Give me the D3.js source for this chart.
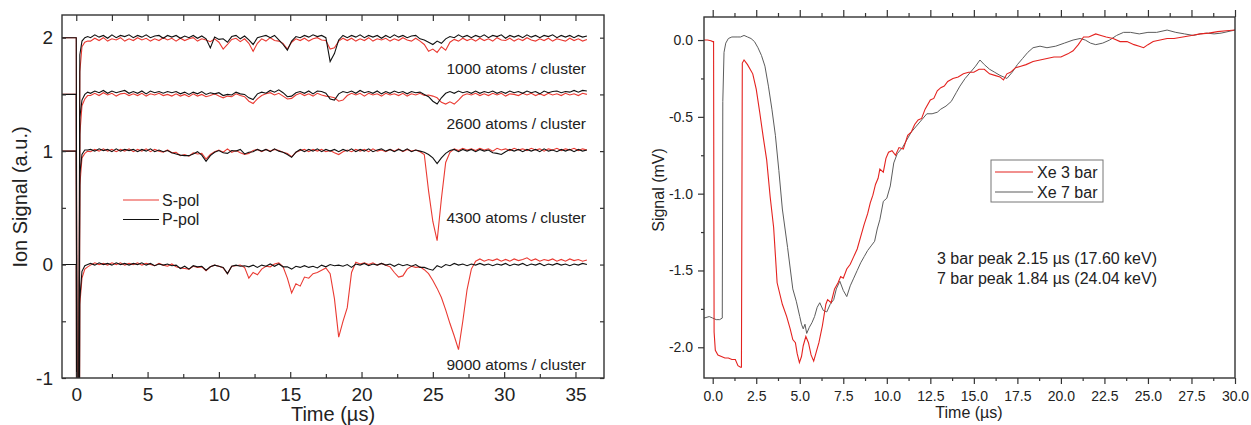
<!DOCTYPE html>
<html>
<head>
<meta charset="utf-8">
<script src="https://cdn.jsdelivr.net/npm/d3@7"></script>
<style>
body { margin: 0; background: #fff; }
svg { display: block; }
</style>
</head>
<body>
<svg id="chart" width="1251" height="425"></svg>
<script>
// ---- left panel: ion signal vs time, offset per cluster size ----
var leftTimes = [
 -1, -0.6, -0.2, 0, 0.06, 0.16, 0.25, 0.4, 0.6, 0.8,
 1.0, 1.3, 1.6, 1.9, 2.2, 2.5, 2.8, 3.1, 3.4, 3.7,
 4.0, 4.3, 4.6, 4.9, 5.2, 5.5, 5.8, 6.1, 6.4, 6.7,
 7.0, 7.3, 7.6, 7.9, 8.2, 8.5, 8.8, 9.1, 9.4, 9.7,
 10.0, 10.3, 10.6, 10.9, 11.2, 11.5, 11.8, 12.1, 12.4, 12.7,
 13.0, 13.3, 13.6, 13.9, 14.2, 14.5, 14.8, 15.1, 15.4, 15.7,
 16.0, 16.3, 16.6, 16.9, 17.2, 17.5, 17.8, 18.1, 18.4, 18.7,
 19.0, 19.3, 19.6, 19.9, 20.2, 20.5, 20.8, 21.1, 21.4, 21.7,
 22.0, 22.3, 22.6, 22.9, 23.2, 23.5, 23.8, 24.1, 24.4, 24.7,
 25.0, 25.3, 25.6, 25.9, 26.2, 26.5, 26.8, 27.1, 27.4, 27.7,
 28.0, 28.3, 28.6, 28.9, 29.2, 29.5, 29.8, 30.1, 30.4, 30.7,
 31.0, 31.3, 31.6, 31.9, 32.2, 32.5, 32.8, 33.1, 33.4, 33.7,
 34.0, 34.3, 34.6, 34.9, 35.2, 35.5, 35.8
];

var clusterLabels = ["1000 atoms / cluster", "2600 atoms / cluster", "4300 atoms / cluster", "9000 atoms / cluster"];
var clusterOffsets = [2, 1.5, 1, 0];

// deviations from each trace's offset, S-pol (red) and P-pol (black)
var sPol1000 = [
 0, 0, 0, 0, -4, -4, -0.3, -0.08, -0.04, -0.03,
 -0.03, -0.005, -0.025, 0.0, -0.03, -0.01, -0.02, 0.0, -0.03, -0.01,
 -0.025, 0.0, -0.02, -0.005, -0.03, -0.01, -0.025, 0.0, -0.02, -0.005,
 -0.03, -0.005, -0.025, -0.01, 0.0, -0.03, -0.01, -0.02, -0.035, -0.01,
 -0.04, -0.10, -0.06, -0.015, -0.005, -0.035, -0.01, -0.05, -0.12, -0.05,
 -0.01, -0.03, 0.0, -0.025, -0.03, -0.05, -0.10, -0.04, -0.01, -0.025,
 -0.005, -0.03, -0.01, 0.0, -0.02, -0.025, -0.10, -0.09, -0.03, -0.005,
 -0.025, -0.005, -0.03, -0.01, -0.025, 0.0, -0.03, -0.01, -0.02, -0.005,
 -0.03, -0.01, -0.025, 0.0, -0.02, -0.03, -0.005, -0.03, -0.06, -0.12,
 -0.10, -0.13, -0.08, -0.11, -0.04, -0.015, -0.03, -0.005, -0.025, -0.01,
 -0.03, -0.005, -0.025, -0.01, -0.03, 0.0, -0.02, -0.025, -0.005, -0.03,
 -0.01, -0.025, 0.0, -0.02, -0.03, -0.01, -0.025, -0.005, -0.03, -0.01,
 -0.02, -0.03, -0.005, -0.025, -0.01, -0.03, -0.015
];
var pPol1000 = [
 0, 0, 0, 0, -4, -4, -0.15, -0.03, 0.0, 0.01,
 0.0, 0.025, 0.005, 0.02, -0.005, 0.025, 0.0, 0.02, 0.01, 0.025,
 0.0, 0.02, 0.005, 0.025, 0.0, 0.015, 0.02, -0.005, 0.02, 0.005,
 0.02, -0.005, 0.015, 0.0, 0.02, -0.005, 0.015, -0.01, -0.09, 0.005,
 -0.015, -0.01, -0.04, 0.01, 0.02, -0.01, 0.015, -0.02, -0.06, 0.0,
 0.01, 0.02, 0.0, 0.02, -0.02, -0.06, -0.11, -0.03, 0.01, 0.0,
 0.02, 0.005, 0.025, 0.01, 0.02, 0.0, -0.21, -0.14, -0.02, 0.02,
 0.0, 0.02, 0.005, 0.025, 0.0, 0.02, 0.005, 0.02, -0.005, 0.02,
 0.0, 0.025, 0.005, 0.02, 0.0, 0.015, 0.02, -0.01, -0.02, -0.04,
 -0.06, -0.03, -0.05, -0.01, 0.01, 0.0, 0.025, 0.005, 0.02, 0.0,
 0.02, 0.005, 0.025, 0.0, 0.02, 0.01, 0.025, -0.005, 0.02, 0.005,
 0.02, 0.0, 0.025, 0.005, 0.02, 0.0, 0.02, 0.01, 0.025, 0.0,
 0.02, 0.005, 0.02, 0.0, 0.02, 0.005, 0.015
];
var sPol2600 = [
 0, 0, 0, 0, -4, -4, -0.35, -0.1, -0.04, -0.01,
 -0.01, 0.01, -0.01, 0.015, -0.005, 0.01, -0.015, 0.005, 0.01, -0.01,
 0.005, -0.01, 0.01, -0.015, 0.005, -0.005, 0.01, -0.01, 0.0, -0.015,
 0.005, -0.015, 0.0, -0.02, 0.005, -0.015, 0.0, -0.02, -0.01, 0.005,
 -0.015, -0.03, -0.015, -0.02, 0.005, -0.01, -0.02, -0.06, -0.08, -0.04,
 -0.01, 0.005, 0.015, -0.005, 0.01, -0.015, -0.04, -0.035, -0.005, 0.01,
 -0.01, 0.005, -0.015, 0.01, -0.005, -0.015, -0.02, -0.03, -0.06, -0.05,
 -0.01, 0.01, -0.005, 0.01, -0.015, 0.01, -0.005, 0.005, -0.015, 0.01,
 -0.005, 0.005, -0.01, 0.01, -0.015, 0.005, -0.005, 0.01, -0.01, -0.005,
 -0.015, -0.03, -0.07, -0.085, -0.065, -0.085, -0.05, -0.01, 0.005, -0.005,
 0.01, -0.01, 0.005, -0.01, 0.01, -0.005, 0.01, -0.015, 0.005, 0.0,
 -0.01, 0.01, -0.005, 0.01, -0.01, 0.005, -0.01, 0.01, -0.005, 0.005,
 -0.01, 0.01, -0.005, 0.005, -0.01, 0.01, 0.0
];
var pPol2600 = [
 0, 0, 0, 0, -4, -4, -0.2, -0.05, 0.0, 0.02,
 0.01, 0.03, 0.015, 0.035, 0.01, 0.03, 0.015, 0.025, 0.035, 0.01,
 0.025, 0.01, 0.03, 0.005, 0.03, 0.015, 0.025, 0.01, 0.025, 0.015,
 0.025, 0.005, 0.02, 0.0, 0.02, 0.005, 0.025, 0.0, 0.015, 0.005,
 0.015, -0.01, 0.0, -0.005, 0.02, 0.005, 0.0, -0.03, -0.045, 0.005,
 0.02, 0.01, 0.035, 0.02, 0.04, 0.015, -0.02, -0.015, 0.015, 0.025,
 0.01, 0.03, 0.005, 0.03, 0.025, 0.01, -0.04, -0.05, 0.005, 0.025,
 0.015, 0.03, 0.01, 0.035, 0.015, 0.025, 0.01, 0.03, 0.005, 0.025,
 0.01, 0.03, 0.015, 0.025, 0.005, 0.025, 0.015, 0.02, 0.0, -0.02,
 -0.06, -0.085, -0.03, 0.01, 0.025, 0.01, 0.03, 0.015, 0.025, 0.01,
 0.03, 0.01, 0.025, 0.015, 0.03, 0.01, 0.025, 0.01, 0.03, 0.015,
 0.025, 0.01, 0.03, 0.015, 0.025, 0.005, 0.03, 0.015, 0.025, 0.03,
 0.015, 0.025, 0.02, 0.035, 0.02, 0.035, 0.03
];
var sPol4300 = [
 0, 0, 0, 0, -4, -4, -0.3, -0.06, -0.02, 0.0,
 -0.005, 0.015, 0.0, 0.02, 0.0, 0.015, -0.005, 0.015, 0.0, 0.02,
 -0.005, 0.015, 0.0, 0.02, -0.005, 0.015, 0.0, -0.01, 0.01, -0.015,
 -0.01, -0.04, -0.03, -0.045, -0.015, -0.025, -0.02, -0.07, -0.03, -0.005,
 0.01, -0.01, 0.02, -0.01, 0.005, -0.015, -0.03, -0.02, 0.005, 0.015,
 -0.005, 0.015, 0.0, 0.015, 0.005, -0.01, -0.02, -0.05, -0.01, 0.005,
 0.015, -0.005, 0.015, 0.0, 0.015, -0.005, 0.005, -0.015, -0.03, -0.005,
 0.01, -0.005, 0.015, 0.0, 0.015, -0.005, 0.02, 0.0, 0.01, -0.005,
 0.015, 0.0, 0.02, -0.005, 0.015, 0.0, 0.01, -0.005, -0.03, -0.35,
 -0.62, -0.79, -0.42, -0.10, -0.01, 0.02, 0.005, 0.025, 0.01, 0.02,
 0.005, 0.025, 0.01, 0.02, 0.0, 0.025, 0.01, 0.02, 0.005, 0.025,
 0.01, 0.02, 0.005, 0.025, 0.01, 0.02, 0.0, 0.02, 0.01, 0.025,
 0.005, 0.02, 0.01, 0.025, 0.005, 0.02, 0.01
];
var pPol4300 = [
 0, 0, 0, 0, -4, -4, -0.2, -0.03, 0.01, 0.01,
 0.015, 0.0, 0.02, 0.005, 0.015, -0.005, 0.02, 0.0, 0.015, 0.005,
 0.015, -0.005, 0.015, 0.0, 0.02, -0.005, 0.01, -0.005, 0.005, -0.015,
 -0.025, -0.035, -0.04, -0.04, -0.025, -0.005, -0.035, -0.09, -0.04, -0.01,
 0.005, -0.015, -0.02, 0.005, 0.0, 0.015, -0.025, -0.01, -0.005, 0.015,
 0.0, 0.015, -0.005, 0.02, 0.0, -0.01, -0.03, -0.055, -0.01, 0.015,
 -0.005, 0.015, 0.0, 0.02, -0.005, 0.015, 0.0, 0.015, -0.005, 0.015,
 0.0, 0.02, -0.005, 0.015, 0.0, 0.02, -0.005, 0.01, 0.02, 0.0,
 0.015, -0.005, 0.015, 0.0, 0.02, -0.005, 0.01, 0.0, -0.01, -0.03,
 -0.06, -0.11, -0.06, -0.02, 0.005, 0.015, -0.005, 0.015, 0.0, 0.015,
 -0.005, 0.015, 0.0, 0.01, -0.015, -0.02, -0.03, -0.005, 0.015, 0.0,
 0.015, -0.005, 0.015, 0.0, 0.015, -0.005, 0.02, 0.0, 0.01, -0.005,
 0.015, 0.0, 0.015, -0.005, 0.015, 0.0, 0.01
];
var sPol9000 = [
 0, 0, 0, 0, -4, -4, -0.35, -0.12, -0.04, -0.02,
 -0.005, 0.015, 0.0, 0.01, -0.005, 0.015, 0.0, 0.015, -0.005, 0.01,
 0.0, 0.015, -0.005, 0.01, 0.0, -0.01, 0.01, -0.005, -0.015, 0.005,
 -0.02, -0.03, -0.035, -0.04, -0.015, -0.025, -0.02, -0.055, -0.02, -0.005,
 -0.015, -0.03, -0.08, -0.015, -0.01, -0.005, -0.025, -0.12, -0.07, -0.09,
 -0.04, -0.015, -0.02, 0.005, 0.015, -0.02, -0.12, -0.25, -0.17, -0.19,
 -0.11, -0.12, -0.08, -0.07, -0.05, -0.03, -0.08, -0.30, -0.64, -0.50,
 -0.38, -0.07, 0.02, 0.005, 0.015, 0.0, 0.015, -0.005, 0.01, -0.005,
 -0.02, -0.07, -0.11, -0.10, -0.04, -0.015, -0.025, -0.02, -0.045, -0.08,
 -0.14, -0.21, -0.29, -0.40, -0.52, -0.63, -0.75, -0.50, -0.22, -0.04,
 0.03, 0.05, 0.03, 0.045, 0.035, 0.05, 0.03, 0.045, 0.03, 0.05,
 0.035, 0.045, 0.06, 0.035, 0.05, 0.03, 0.045, 0.035, 0.05, 0.03,
 0.045, 0.03, 0.05, 0.035, 0.045, 0.03, 0.04
];
var pPol9000 = [
 0, 0, 0, 0, -4, -4, -0.3, -0.06, -0.01, 0.0,
 0.01, -0.005, 0.015, 0.0, 0.01, -0.005, 0.015, 0.0, 0.01, -0.005,
 0.01, 0.0, 0.015, -0.005, 0.01, -0.01, 0.005, -0.005, 0.005, -0.01,
 -0.005, -0.035, -0.015, -0.04, -0.01, -0.02, -0.015, -0.05, -0.02, -0.005,
 -0.015, -0.025, -0.08, -0.015, -0.005, -0.015, -0.01, -0.02, -0.005, -0.025,
 -0.005, -0.015, 0.005, -0.015, 0.005, -0.02, -0.02, -0.04, -0.015, -0.025,
 -0.01, -0.025, -0.015, -0.03, -0.005, -0.02, 0.0, -0.01, -0.005, -0.015,
 0.0, -0.025, 0.005, -0.005, 0.01, -0.01, 0.005, -0.005, 0.01, -0.005,
 0.005, -0.015, 0.005, -0.01, 0.0, -0.015, 0.0, -0.025, -0.025, -0.04,
 -0.05, -0.01, -0.025, 0.0, -0.01, 0.01, -0.005, 0.005, -0.01, 0.005,
 -0.005, 0.01, -0.005, 0.005, -0.01, 0.005, -0.005, 0.01, -0.01, 0.005,
 -0.005, 0.01, -0.01, 0.005, -0.005, 0.01, -0.01, 0.005, -0.005, 0.01,
 -0.005, 0.005, -0.01, 0.005, -0.005, 0.01, 0.0
];
var sPolSeries = [sPol1000, sPol2600, sPol4300, sPol9000];
var pPolSeries = [pPol1000, pPol2600, pPol4300, pPol9000];

var leftXMajor = [0, 5, 10, 15, 20, 25, 30, 35];
var leftXMinor = [2.5, 7.5, 12.5, 17.5, 22.5, 27.5, 32.5];
var leftYMajor = [2, 1, 0, -1];
var leftYMinor = [1.5, 0.5, -0.5];

// ---- right panel: Xe signal vs time ----
var xe3Time = [
 -0.5, -0.3, -0.1, 0.0, 0.05, 0.08, 0.15, 0.3, 0.5, 0.7, 0.9, 1.1, 1.3, 1.45, 1.6, 1.65,
 1.7, 1.8, 2.0, 2.3, 2.5, 2.7, 2.9, 3.1, 3.3, 3.5, 3.7, 4.0, 4.25, 4.45, 4.6, 4.75,
 4.85, 4.98, 5.1, 5.2, 5.35, 5.5, 5.65, 5.8, 5.95, 6.1, 6.3, 6.5, 6.6, 6.8, 7.0, 7.2,
 7.35, 7.5, 7.7, 7.9, 8.1, 8.3, 8.5, 8.7, 8.9, 9.05, 9.2, 9.35, 9.5, 9.6, 9.8, 9.95,
 10.1, 10.3, 10.5, 10.7, 10.95, 11.2, 11.4, 11.6, 11.8, 12.0, 12.2, 12.5, 12.7, 12.9, 13.1, 13.3,
 13.5, 13.8, 14.1, 14.4, 14.7, 15.0, 15.3, 15.6, 15.9, 16.2, 16.5, 16.7, 16.9, 17.1, 17.4, 17.7,
 18.0, 18.4, 18.8, 19.2, 19.6, 20.0, 20.4, 20.7, 21.0, 21.3, 21.6, 22.0, 22.3, 22.6, 23.0, 23.4,
 23.8, 24.2, 24.5, 24.75, 25.0, 25.3, 25.7, 26.1, 26.5, 27.0, 27.5, 28.0, 28.5, 29.0, 29.5, 30.0
];
var xe3Signal = [
 0.0, 0.0, -0.005, -0.01, -0.01, -1.9, -2.02, -2.05, -2.06, -2.07, -2.07, -2.08, -2.08, -2.12, -2.13, -2.13,
 -0.15, -0.13, -0.16, -0.22, -0.32, -0.47, -0.63, -0.78, -1.02, -1.22, -1.58, -1.72, -1.80, -1.88, -1.95, -1.97,
 -2.04, -2.10, -2.06, -1.99, -1.93, -1.97, -2.05, -2.09, -2.03, -1.97, -1.86, -1.72, -1.69, -1.71, -1.62, -1.58,
 -1.54, -1.55, -1.49, -1.46, -1.41, -1.36, -1.28, -1.20, -1.13, -1.06, -1.01, -0.94, -0.90, -0.84, -0.86, -0.77,
 -0.73, -0.72, -0.75, -0.70, -0.71, -0.62, -0.60, -0.55, -0.52, -0.51, -0.45, -0.39, -0.38, -0.33, -0.31, -0.30,
 -0.27, -0.25, -0.24, -0.22, -0.21, -0.21, -0.19, -0.19, -0.22, -0.23, -0.24, -0.26, -0.22, -0.21, -0.18, -0.17,
 -0.16, -0.14, -0.13, -0.12, -0.11, -0.11, -0.09, -0.07, -0.03, 0.02, 0.02, 0.04, 0.03, 0.02, 0.01, -0.01,
 -0.01, -0.03, -0.04, -0.05, -0.03, -0.01, 0.0, 0.01, 0.01, 0.02, 0.03, 0.04, 0.045, 0.055, 0.06, 0.065
];
var xe7Time = [
 -0.5, -0.2, 0.0, 0.2, 0.4, 0.55, 0.58, 0.65, 0.75, 0.9, 1.1, 1.4, 1.6, 1.8, 2.0, 2.2,
 2.4, 2.6, 2.8, 3.0, 3.2, 3.4, 3.6, 3.8, 4.0, 4.3, 4.6, 4.8, 5.0, 5.1, 5.2, 5.3,
 5.4, 5.55, 5.7, 5.85, 6.0, 6.15, 6.35, 6.55, 6.75, 6.95, 7.1, 7.3, 7.5, 7.7, 7.9, 8.1,
 8.3, 8.5, 8.7, 8.9, 9.1, 9.3, 9.45, 9.6, 9.8, 10.0, 10.2, 10.4, 10.6, 10.9, 11.15, 11.4,
 11.7, 12.0, 12.3, 12.6, 12.9, 13.1, 13.4, 13.7, 14.0, 14.2, 14.5, 14.8, 15.1, 15.35, 15.6, 15.9,
 16.2, 16.5, 16.9, 17.2, 17.5, 17.8, 18.1, 18.4, 18.8, 19.2, 19.7, 20.2, 20.7, 21.1, 21.4, 21.7,
 22.0, 22.4, 22.8, 23.2, 23.6, 24.0, 24.5, 25.0, 25.5, 26.1, 26.6, 27.1, 27.6, 28.0, 28.4, 28.8,
 29.2, 29.6, 30.0
];
var xe7Signal = [
 -1.81, -1.80, -1.81, -1.82, -1.82, -1.81, -0.4, -0.08, -0.02, 0.01, 0.02, 0.02, 0.02, 0.03, 0.02, 0.01,
 -0.01, -0.05, -0.10, -0.17, -0.30, -0.45, -0.62, -0.85, -1.10, -1.35, -1.62, -1.70, -1.80, -1.85, -1.88, -1.85,
 -1.91, -1.87, -1.84, -1.80, -1.74, -1.71, -1.76, -1.77, -1.72, -1.69, -1.62, -1.57, -1.63, -1.67, -1.60, -1.55,
 -1.50, -1.45, -1.41, -1.37, -1.34, -1.31, -1.23, -1.17, -1.05, -1.03, -0.95, -0.80, -0.74, -0.70, -0.65, -0.60,
 -0.56, -0.52, -0.48, -0.48, -0.47, -0.45, -0.43, -0.40, -0.34, -0.30, -0.25, -0.21, -0.17, -0.13, -0.16, -0.19,
 -0.21, -0.23, -0.25, -0.21, -0.16, -0.12, -0.08, -0.05, -0.04, -0.05, -0.04, -0.02, 0.0, 0.01, 0.0, -0.02,
 -0.03, -0.02, 0.0, 0.03, 0.05, 0.05, 0.04, 0.05, 0.05, 0.065, 0.05, 0.04, 0.03, 0.04, 0.045, 0.04,
 0.045, 0.055, 0.065
];
var rightSeriesNames = ["Xe 3 bar", "Xe 7 bar"];
var rightNotes = ["3 bar peak 2.15 \u00b5s (17.60 keV)", "7 bar peak 1.84 \u00b5s (24.04 keV)"];
var rightXMajor = [0, 2.5, 5, 7.5, 10, 12.5, 15, 17.5, 20, 22.5, 25, 27.5, 30];
var rightXMinor = [1.25, 3.75, 6.25, 8.75, 11.25, 13.75, 16.25, 18.75, 21.25, 23.75, 26.25, 28.75];
var rightYMajor = [0, -0.5, -1, -1.5, -2];
var rightYMinor = [-0.25, -0.75, -1.25, -1.75];

const FONT = '"Liberation Sans", Arial, sans-serif';
const RED = "#ea3a32";
const svg = d3.select("#chart");

function styleAxis(g, size) {
  g.select(".domain").remove();
  g.attr("font-family", FONT).attr("font-size", size);
  g.selectAll("line").attr("stroke", "#333").attr("stroke-width", 1.2);
  g.selectAll("text").attr("fill", "#222");
}

// ===== Left panel =====
const xL = d3.scaleLinear().domain([-1, 37]).range([62, 604]);
const yL = d3.scaleLinear().domain([-1, 2.2]).range([378, 15]);

svg.append("clipPath").attr("id", "clipL")
  .append("rect").attr("x", 62).attr("y", 15).attr("width", 542).attr("height", 363);

const left = svg.append("g").attr("clip-path", "url(#clipL)");

sPolSeries.forEach(function(vals, i) {
  const line = d3.line()
    .x((d, j) => xL(leftTimes[j]))
    .y(d => yL(d + clusterOffsets[i]));
  left.append("path")
    .attr("d", line(vals))
    .attr("fill", "none")
    .attr("stroke", RED)
    .attr("stroke-width", 1.1);
});
pPolSeries.forEach(function(vals, i) {
  const line = d3.line()
    .x((d, j) => xL(leftTimes[j]))
    .y(d => yL(d + clusterOffsets[i]));
  left.append("path")
    .attr("d", line(vals))
    .attr("fill", "none")
    .attr("stroke", "#111")
    .attr("stroke-width", 1.1);
});

// axes, ticks pointing in
svg.append("g").attr("transform", "translate(0,378)")
  .call(d3.axisBottom(xL).tickValues(leftXMajor).tickSizeInner(-6).tickSizeOuter(0)
    .tickPadding(10).tickFormat(d => String(d)))
  .call(g => styleAxis(g, 19));
svg.append("g").attr("transform", "translate(0,378)")
  .call(d3.axisBottom(xL).tickValues(leftXMinor).tickSizeInner(-4).tickSizeOuter(0).tickFormat(""))
  .call(g => styleAxis(g, 19));
svg.append("g").attr("transform", "translate(0,15)")
  .call(d3.axisTop(xL).tickValues(leftXMajor.concat(leftXMinor)).tickSizeInner(-6).tickSizeOuter(0).tickFormat(""))
  .call(g => styleAxis(g, 19));
svg.append("g").attr("transform", "translate(62,0)")
  .call(d3.axisLeft(yL).tickValues(leftYMajor).tickSizeInner(-4).tickSizeOuter(0)
    .tickPadding(9).tickFormat(d => String(d)))
  .call(g => styleAxis(g, 19));
svg.append("g").attr("transform", "translate(62,0)")
  .call(d3.axisLeft(yL).tickValues(leftYMinor).tickSizeInner(-4).tickSizeOuter(0).tickFormat(""))
  .call(g => styleAxis(g, 19));
svg.append("g").attr("transform", "translate(604,0)")
  .call(d3.axisRight(yL).tickValues(leftYMajor.concat(leftYMinor)).tickSizeInner(-4).tickSizeOuter(0).tickFormat(""))
  .call(g => styleAxis(g, 19));

svg.append("rect").attr("x", 62).attr("y", 15).attr("width", 542).attr("height", 363)
  .attr("fill", "none").attr("stroke", "#333").attr("stroke-width", 1.4);

svg.append("text").attr("x", 333).attr("y", 421).attr("text-anchor", "middle")
  .attr("font-family", FONT).attr("font-size", 20).attr("fill", "#222")
  .text("Time (\u00b5s)");
svg.append("text").attr("transform", "translate(27,197) rotate(-90)").attr("text-anchor", "middle")
  .attr("font-family", FONT).attr("font-size", 20).attr("fill", "#222")
  .text("Ion Signal (a.u.)");

// cluster labels
const labelY = [74, 129, 223, 370];
clusterLabels.forEach(function(t, i) {
  svg.append("text").attr("x", 586).attr("y", labelY[i]).attr("text-anchor", "end")
    .attr("font-family", FONT).attr("font-size", 15.5).attr("fill", "#222").text(t);
});

// legend
[["S-pol", RED], ["P-pol", "#111"]].forEach(function(d, i) {
  const y = 200 + i * 19.5;
  svg.append("line").attr("x1", 123).attr("x2", 159).attr("y1", y).attr("y2", y)
    .attr("stroke", d[1]).attr("stroke-width", 1.2);
  svg.append("text").attr("x", 162).attr("y", y + 5.5)
    .attr("font-family", FONT).attr("font-size", 16).attr("fill", "#222").text(d[0]);
});

// ===== Right panel =====
const xR = d3.scaleLinear().domain([-0.5, 30]).range([704, 1235]);
const yR = d3.scaleLinear().domain([-2.2, 0.15]).range([378, 17]);

svg.append("clipPath").attr("id", "clipR")
  .append("rect").attr("x", 704).attr("y", 17).attr("width", 531).attr("height", 361);
const right = svg.append("g").attr("clip-path", "url(#clipR)");

const line7 = d3.line().x((d, j) => xR(xe7Time[j])).y(d => yR(d));
right.append("path").attr("d", line7(xe7Signal))
  .attr("fill", "none").attr("stroke", "#5c5c5c").attr("stroke-width", 1);
const line3 = d3.line().x((d, j) => xR(xe3Time[j])).y(d => yR(d));
right.append("path").attr("d", line3(xe3Signal))
  .attr("fill", "none").attr("stroke", "#e4221f").attr("stroke-width", 1.1);

const fmt1 = d => d.toFixed(1);
svg.append("g").attr("transform", "translate(0,378)")
  .call(d3.axisBottom(xR).tickValues(rightXMajor).tickSize(6).tickPadding(7).tickFormat(fmt1))
  .call(g => styleAxis(g, 14));
svg.append("g").attr("transform", "translate(0,378)")
  .call(d3.axisBottom(xR).tickValues(rightXMinor).tickSize(3).tickFormat(""))
  .call(g => styleAxis(g, 14));
svg.append("g").attr("transform", "translate(0,17)")
  .call(d3.axisTop(xR).tickValues(rightXMajor).tickSize(7).tickFormat(""))
  .call(g => styleAxis(g, 14));
svg.append("g").attr("transform", "translate(0,17)")
  .call(d3.axisTop(xR).tickValues(rightXMinor).tickSize(4).tickFormat(""))
  .call(g => styleAxis(g, 14));
svg.append("g").attr("transform", "translate(704,0)")
  .call(d3.axisLeft(yR).tickValues(rightYMajor).tickSize(6).tickPadding(5).tickFormat(fmt1))
  .call(g => styleAxis(g, 14));
svg.append("g").attr("transform", "translate(704,0)")
  .call(d3.axisLeft(yR).tickValues(rightYMinor).tickSize(3).tickFormat(""))
  .call(g => styleAxis(g, 14));

svg.append("rect").attr("x", 704).attr("y", 17).attr("width", 531).attr("height", 361)
  .attr("fill", "none").attr("stroke", "#333").attr("stroke-width", 1.4);

svg.append("text").attr("x", 969).attr("y", 418).attr("text-anchor", "middle")
  .attr("font-family", FONT).attr("font-size", 16).attr("fill", "#222")
  .text("Time (\u00b5s)");
svg.append("text").attr("transform", "translate(664,190) rotate(-90)").attr("text-anchor", "middle")
  .attr("font-family", FONT).attr("font-size", 16).attr("fill", "#222")
  .text("Signal (mV)");

// legend box
svg.append("rect").attr("x", 991).attr("y", 160).attr("width", 112).attr("height", 42)
  .attr("fill", "#fff").attr("stroke", "#777").attr("stroke-width", 1);
[[rightSeriesNames[0], "#e4221f"], [rightSeriesNames[1], "#5c5c5c"]].forEach(function(d, i) {
  const y = 172 + i * 20;
  svg.append("line").attr("x1", 995).attr("x2", 1033).attr("y1", y).attr("y2", y)
    .attr("stroke", d[1]).attr("stroke-width", 1.1);
  svg.append("text").attr("x", 1037).attr("y", y + 6)
    .attr("font-family", FONT).attr("font-size", 16).attr("fill", "#222").text(d[0]);
});

rightNotes.forEach(function(t, i) {
  svg.append("text").attr("x", 937).attr("y", 264 + i * 20)
    .attr("font-family", FONT).attr("font-size", 16).attr("fill", "#222").text(t);
});
</script>
</body>
</html>
